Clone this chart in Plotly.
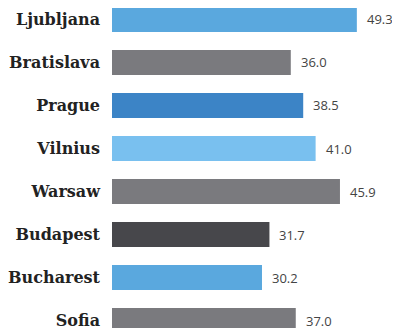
import plotly.graph_objects as go

cities = ["Ljubljana", "Bratislava", "Prague", "Vilnius", "Warsaw", "Budapest", "Bucharest", "Sofia"]
values = [49.3, 36.0, 38.5, 41.0, 45.9, 31.7, 30.2, 37.0]
colors = ["#5aa8de", "#7a7a7e", "#3c84c6", "#79c0ef", "#7a7a7e", "#47474b", "#5aa8de", "#7a7a7e"]

fig = go.Figure(go.Bar(
    x=values, y=cities, orientation="h",
    marker=dict(color=colors, line=dict(width=0)),
    width=0.58,
))

for c, v in zip(cities, values):
    fig.add_annotation(x=v, y=c, text=f"{v:.1f}", showarrow=False,
                       xanchor="left", xshift=8,
                       font=dict(family="Open Sans", size=13, color="#444"))

fig.update_layout(
    width=400, height=328,
    margin=dict(l=102, r=0, t=0, b=0),
    paper_bgcolor="white", plot_bgcolor="white",
    showlegend=False,
    xaxis=dict(range=[0, 59.6], visible=False, fixedrange=True),
    yaxis=dict(categoryorder="array", categoryarray=cities,
               range=[7.36, -0.267], showgrid=False, zeroline=False,
               showline=False, ticks="", ticklabelstandoff=11,
               tickfont=dict(family="DejaVu Serif", size=16, color="#222"),
               fixedrange=True),
)
fig.update_yaxes(tickfont_weight="bold")

fig.write_html("out.html")
